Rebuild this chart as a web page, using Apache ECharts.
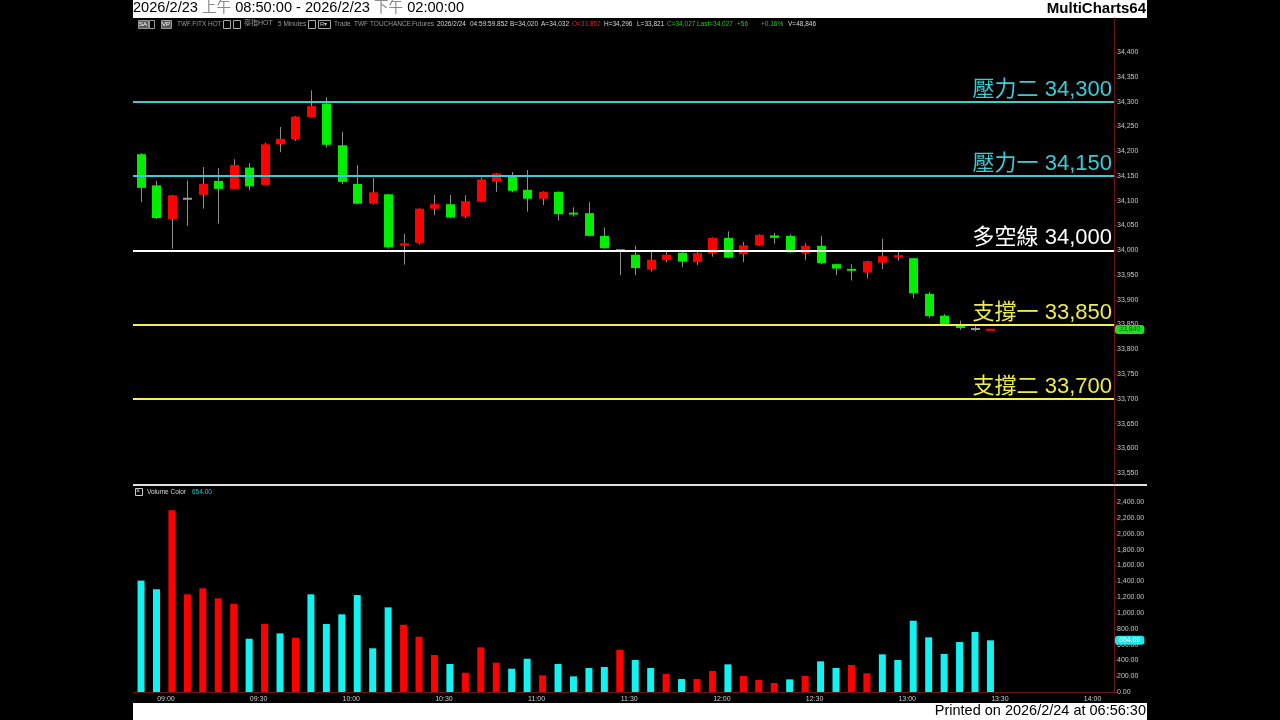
<!DOCTYPE html>
<html><head><meta charset="utf-8">
<script src="https://cdn.jsdelivr.net/npm/echarts@6/dist/echarts.min.js"></script>
<style>html,body{margin:0;padding:0;background:#000;}#c{width:1280px;height:720px;}</style>
</head><body><div id="c"></div>
<script>
// ---- data ----
const times = ['08:50','08:55','09:00','09:05','09:10','09:15','09:20','09:25','09:30','09:35',
'09:40','09:45','09:50','09:55','10:00','10:05','10:10','10:15','10:20','10:25',
'10:30','10:35','10:40','10:45','10:50','10:55','11:00','11:05','11:10','11:15',
'11:20','11:25','11:30','11:35','11:40','11:45','11:50','11:55','12:00','12:05',
'12:10','12:15','12:20','12:25','12:30','12:35','12:40','12:45','12:50','12:55',
'13:00','13:05','13:10','13:15','13:20','13:25'];
const opens  = [34194,34131,34063,34104,34112,34140,34124,34167,34132,34214,34224,34269,34296,34212,34134,34094,34113,34009,34015,34084,
34093,34068,34098,34139,34151,34122,34104,34118,34075,34075,34029,34000,33991,33961,33980,33995,33976,33994,34025,33992,
34010,34030,34029,33994,34009,33972,33961,33955,33975,33987,33984,33912,33868,33851,33841,33839];
const closes = [34126,34065,34111,34104,34134,34124,34172,34129,34214,34225,34270,34291,34213,34138,34094,34117,34006,34014,34084,34093,
34066,34099,34143,34155,34120,34104,34118,34073,34073,34029,34004,34000,33964,33981,33991,33977,33994,34025,33985,34010,
34031,34025,33996,34009,33974,33963,33960,33978,33988,33989,33913,33867,33851,33843,33841,33840];
const highs  = [34196,34140,34112,34141,34168,34166,34184,34176,34217,34249,34271,34323,34309,34239,34172,34146,34114,34033,34085,34112,
34112,34111,34147,34156,34158,34162,34119,34119,34087,34097,34046,34000,34009,34001,33999,33996,33999,34026,34038,34017,
34032,34035,34032,34014,34029,33973,33972,33979,34023,33997,33985,33916,33871,33858,33847,33841];
const lows   = [34097,34063,34003,34049,34084,34054,34123,34121,34131,34198,34221,34268,34207,34134,34093,34092,34003,33971,34012,34071,
34065,34065,34097,34118,34117,34078,34091,34060,34068,34028,34003,33950,33950,33957,33976,33966,33970,33987,33984,33976,
34009,34013,33995,33980,33972,33950,33939,33943,33962,33979,33903,33863,33850,33839,33836,33838];
const volumes = [1410,1300,2300,1236,1312,1185,1117,674,860,742,687,1236,860,983,1227,553,1071,851,700,468,
354,244,565,371,295,421,211,354,198,304,316,535,405,304,228,164,164,266,350,202,
152,114,160,202,388,304,342,236,477,405,902,692,481,633,759,654];
const volUp = [0,0,1,1,1,1,1,0,1,0,1,0,0,0,0,0,0,1,1,1,
0,1,1,1,0,0,1,0,0,0,0,1,0,0,1,0,1,1,0,1,
1,1,0,1,0,0,1,1,0,0,0,0,0,0,0,0];
const levelNames  = ['壓力二','壓力一','多空線','支撐一','支撐二'];
const levelValues = [34300,34150,34000,33850,33700];
const priceTicks = [33550,33600,33650,33700,33750,33800,33850,33900,33950,34000,34050,34100,34150,34200,34250,34300,34350,34400];
const volTicks = [0,200,400,600,800,1000,1200,1400,1600,1800,2000,2200,2400];
const timeTicks = ['09:00','09:30','10:00','10:30','11:00','11:30','12:00','12:30','13:00','13:30','14:00'];
const lastPrice = 33840;
const lastVolume = 654;

// ---- helpers ----
const toMin = s => { const [h, m] = s.split(':').map(Number); return h * 60 + m; };
const fmtTime = v => { const h = Math.floor(v / 60), m = Math.round(v % 60); return String(h).padStart(2,'0') + ':' + String(m).padStart(2,'0'); };
const candleData = times.map((t, i) => [toMin(t), opens[i], closes[i], lows[i], highs[i]]);
const volData = times.map((t, i) => ({ value: [toMin(t), volumes[i]], itemStyle: { color: volUp[i] ? '#ff0000' : '#12f2f2' } }));
const levelColors = ['#3ccbd6','#3ccbd6','#ffffff','#f2f24a','#f2f24a'];
const levelTextColors = ['#3ccbd6','#3ccbd6','#ffffff','#ecec4c','#ecec4c'];
const AX = '#6a1616';
const FONT = "'Liberation Sans', Arial, sans-serif";
const CJK = "'Liberation Sans', 'Noto Sans CJK TC', sans-serif";
const xMin = toMin('08:50') - 2.6, xMax = toMin('14:05');

const chart = echarts.init(document.getElementById('c'), null, { renderer: 'canvas' });

const info = (text, left, fill, extra) => Object.assign({ type: 'text', left: left, top: 21, silent: true,
  style: { text: text, fill: fill || '#9a9a9a', fontSize: 6.5, fontFamily: FONT } }, extra || {});

const option = {
  backgroundColor: '#000',
  animation: false,
  grid: [
    { left: 133, right: 166, top: 18, bottom: 236 },
    { left: 133, right: 166, top: 487, bottom: 28 }
  ],
  xAxis: [
    { type: 'value', gridIndex: 0, min: xMin, max: xMax, show: false },
    { type: 'value', gridIndex: 1, min: xMin, max: xMax,
      axisLine: { show: true, onZero: false, lineStyle: { color: AX, width: 1 } },
      axisTick: { show: false },
      splitLine: { show: false },
      axisLabel: { customValues: timeTicks.map(toMin), formatter: v => fmtTime(v), color: '#cfcfcf', fontSize: 7, fontFamily: FONT, margin: 4, padding: [0, 12, 0, 0] } }
  ],
  yAxis: [
    { type: 'value', gridIndex: 0, position: 'right', min: 33528, max: 34469, scale: true,
      axisLine: { show: true, lineStyle: { color: AX, width: 1 } },
      axisTick: { show: true, customValues: priceTicks, length: 3, lineStyle: { color: AX } },
      axisLabel: { customValues: priceTicks, color: '#c8c8c8', fontSize: 7, fontFamily: FONT, margin: 3, formatter: v => v.toLocaleString('en-US') },
      splitLine: { show: false },
      axisPointer: { show: true, value: lastPrice, status: 'show', triggerTooltip: false, lineStyle: { opacity: 0 },
        label: { show: true, backgroundColor: '#22dd22', color: '#0a5a0a', fontSize: 7, fontFamily: FONT, padding: [1, 4, 1, 4], margin: 1,
          formatter: p => Number(p.value).toLocaleString('en-US') } } },
    { type: 'value', gridIndex: 1, position: 'right', min: 0, max: 2594,
      axisLine: { show: true, lineStyle: { color: AX, width: 1 } },
      axisTick: { show: true, customValues: volTicks, length: 3, lineStyle: { color: AX } },
      axisLabel: { customValues: volTicks, color: '#c8c8c8', fontSize: 7, fontFamily: FONT, margin: 3,
        formatter: v => v.toLocaleString('en-US', { minimumFractionDigits: 2, maximumFractionDigits: 2 }) },
      splitLine: { show: false },
      axisPointer: { show: true, value: lastVolume, status: 'show', triggerTooltip: false, lineStyle: { opacity: 0 },
        label: { show: true, backgroundColor: '#22e6e6', color: '#ffffff', fontSize: 7, fontFamily: FONT, padding: [1, 4, 1, 4], margin: 1,
          formatter: p => Number(p.value).toLocaleString('en-US', { minimumFractionDigits: 2, maximumFractionDigits: 2 }) } } }
  ],
  series: [
    { type: 'custom', name: 'price', xAxisIndex: 0, yAxisIndex: 0, data: candleData,
      encode: { x: 0, y: [1, 2, 3, 4] }, clip: true,
      renderItem: (params, api) => {
        const x = api.value(0), o = api.value(1), c = api.value(2), l = api.value(3), h = api.value(4);
        const po = api.coord([x, o]), pc = api.coord([x, c]), pl = api.coord([x, l]), ph = api.coord([x, h]);
        const cx = Math.round(po[0]) + 0.5;
        const color = c > o ? '#ff0000' : (c < o ? '#00ee00' : '#9a9a9a');
        let top = Math.min(po[1], pc[1]), bot = Math.max(po[1], pc[1]);
        if (bot - top < 2) { const m = (top + bot) / 2; top = m - 1; bot = m + 1; }
        const bw = 8;
        return { type: 'group', children: [
          { type: 'line', shape: { x1: cx, y1: ph[1], x2: cx, y2: pl[1] }, style: { stroke: '#8c8c8c', lineWidth: 1 } },
          { type: 'rect', shape: { x: cx - 0.5 - bw / 2, y: top, width: bw + 1, height: bot - top }, style: { fill: color } }
        ] };
      },
      markLine: {
        silent: true, symbol: 'none', animation: false,
        data: levelValues.map((v, i) => ({
          yAxis: v,
          lineStyle: { color: levelColors[i], width: 2, type: 'solid' },
          label: { show: true, position: 'insideEndTop', distance: [2, 1], color: levelTextColors[i], fontSize: 22, fontFamily: CJK,
            formatter: levelNames[i] + ' ' + v.toLocaleString('en-US') }
        }))
      }
    },
    { type: 'bar', name: 'Volume', xAxisIndex: 1, yAxisIndex: 1, data: volData, barWidth: 7 }
  ],
  graphic: [
    { type: 'rect', left: 133, top: 0, shape: { width: 1014, height: 18 }, style: { fill: '#ffffff' }, silent: true },
    { type: 'rect', left: 133, top: 703, shape: { width: 1014, height: 17 }, style: { fill: '#ffffff' }, silent: true },
    { type: 'rect', left: 133, top: 484, shape: { width: 1014, height: 2 }, style: { fill: '#e0e0e0' }, silent: true },
    { type: 'text', left: 133, top: 1, style: { text: '2026/2/23 {g|上午} 08:50:00 - 2026/2/23 {g|下午} 02:00:00', fill: '#000', fontSize: 14.6, fontFamily: CJK,
        rich: { g: { fill: '#8a8a8a', fontSize: 14.6, fontFamily: CJK } } } },
    { type: 'text', right: 134, top: 1, style: { text: 'MultiCharts64', fill: '#000', fontSize: 15, fontWeight: 'bold', fontFamily: FONT } },
    { type: 'text', right: 134, top: 703, style: { text: 'Printed on 2026/2/24 at 06:56:30', fill: '#000', fontSize: 14.5, fontFamily: FONT } },
    // info line
    { type: 'rect', left: 138, top: 20, shape: { width: 10, height: 8 }, style: { fill: '#5a5a5a', stroke: '#999', lineWidth: 1 } },
    { type: 'text', left: 139, top: 21, style: { text: 'SA', fill: '#fff', fontSize: 6, fontFamily: FONT } },
    { type: 'rect', left: 149, top: 20, shape: { width: 5, height: 8 }, style: { fill: '#000', stroke: '#999', lineWidth: 1 } },
    { type: 'rect', left: 161, top: 20, shape: { width: 10, height: 8 }, style: { fill: '#5a5a5a', stroke: '#999', lineWidth: 1 } },
    { type: 'text', left: 162, top: 21, style: { text: 'VP', fill: '#fff', fontSize: 6, fontFamily: FONT } },
    info('TWF.FITX HOT', 177),
    { type: 'rect', left: 223, top: 20, shape: { width: 7, height: 8 }, style: { fill: '#000', stroke: '#aaa', lineWidth: 1 } },
    { type: 'rect', left: 233, top: 20, shape: { width: 7, height: 8 }, style: { fill: '#000', stroke: '#aaa', lineWidth: 1 } },
    { type: 'text', left: 244, top: 20, style: { text: '臺指HOT', fill: '#9a9a9a', fontSize: 7, fontFamily: CJK } },
    info('5 Minutes', 278),
    { type: 'rect', left: 308, top: 20, shape: { width: 7, height: 8 }, style: { fill: '#000', stroke: '#aaa', lineWidth: 1 } },
    { type: 'rect', left: 318, top: 20, shape: { width: 12, height: 8 }, style: { fill: '#000', stroke: '#aaa', lineWidth: 1 } },
    { type: 'text', left: 320, top: 21, style: { text: 'R▾', fill: '#ccc', fontSize: 6, fontFamily: FONT } },
    info('Trade', 334), info('TWF', 354), info('TOUCHANCE', 370), info('Futures', 412),
    info('2026/2/24', 437, '#d8d8d8'), info('04:59:59.852', 470, '#d8d8d8'),
    info('B=34,020', 510, '#d8d8d8'), info('A=34,032', 541, '#d8d8d8'),
    info('O=33,857', 572, '#e02020'), info('H=34,296', 604, '#d8d8d8'), info('L=33,821', 637, '#d8d8d8'),
    info('C=34,027', 667, '#22cc22'), info('Last=34,027', 697, '#22cc22'), info('+56', 737, '#22cc22'),
    info('+0.16%', 761, '#22cc22'), info('V=48,846', 788, '#d8d8d8'),
    // volume label
    { type: 'rect', left: 135, top: 488, shape: { width: 7, height: 7 }, style: { fill: '#000', stroke: '#ccc', lineWidth: 1 } },
    { type: 'text', left: 136, top: 488, style: { text: '×', fill: '#ddd', fontSize: 7, fontFamily: FONT } },
    { type: 'text', left: 147, top: 489, style: { text: 'Volume Color', fill: '#d8d8d8', fontSize: 6.5, fontFamily: FONT } },
    { type: 'text', left: 192, top: 489, style: { text: '654.00', fill: '#22cccc', fontSize: 6.5, fontFamily: FONT } }
  ]
};
chart.setOption(option);
</script>
</body></html>
